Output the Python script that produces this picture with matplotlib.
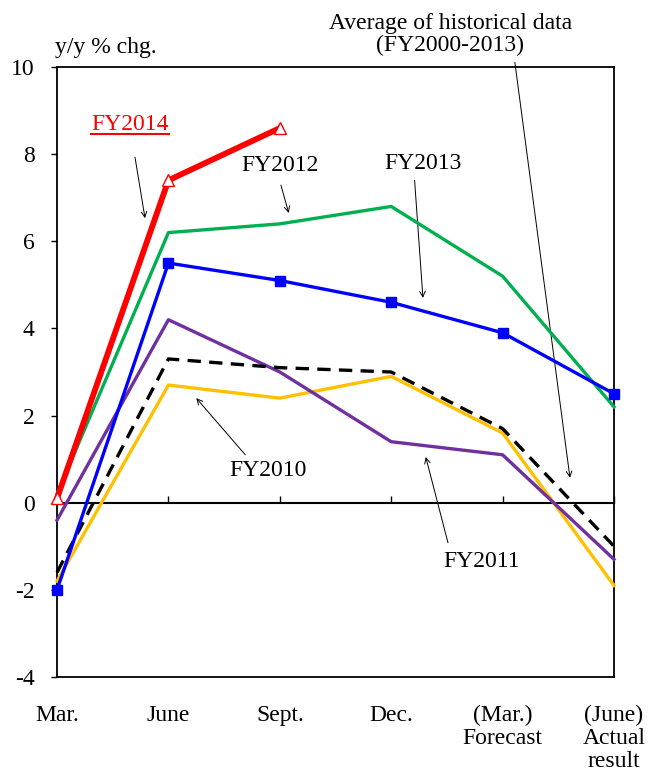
import numpy as np
import matplotlib.pyplot as plt
from matplotlib.lines import Line2D

plt.rcParams['font.family'] = ['Liberation Serif', 'DejaVu Serif']
plt.rcParams['axes.unicode_minus'] = False

months = ['Mar.', 'June', 'Sept.', 'Dec.', '(Mar.)\nForecast', '(June)\nActual\nresult']

fy2014 = [0.1, 7.4, 8.6]
fy2013 = [-2.0, 5.5, 5.1, 4.6, 3.9, 2.5]
fy2012 = [0.2, 6.2, 6.4, 6.8, 5.2, 2.2]
fy2011 = [-0.4, 4.2, 3.0, 1.4, 1.1, -1.3]
fy2010 = [-1.8, 2.7, 2.4, 2.9, 1.6, -1.9]
hist_avg = [-1.6, 3.3, 3.1, 3.0, 1.7, -1.0]

x = np.arange(len(months))
fs = 17

fig = plt.figure(figsize=(6.48, 7.75), dpi=100)
ax = fig.add_axes([0.088, 0.1265, 0.8595, 0.787])

ax.plot(x, fy2010, color='#FFC000', lw=2.4, clip_on=False, zorder=3)
ax.plot(x, fy2011, color='#7030A0', lw=2.4, clip_on=False, zorder=3)
ax.plot(x, hist_avg, color='black', lw=2.4, ls=(0, (4, 2.5)), clip_on=False, zorder=4)
ax.plot(x, fy2012, color='#00B050', lw=2.4, clip_on=False, zorder=4)
ax.plot(x, fy2013, color='#0000FF', lw=2.4, marker='s', ms=7.5, clip_on=False, zorder=5)
ax.plot(x[:len(fy2014)], fy2014, color='#FF0000', lw=4.2, marker='^', ms=9,
        mfc='white', mec='#FF0000', mew=1.0, clip_on=False, zorder=6)

ax.set_xlim(0, 5)
ax.set_ylim(-4, 10)
ax.set_yticks(np.arange(-4, 11, 2))
ax.set_xticks(x)
ax.set_xticklabels(months, fontsize=fs, linespacing=1.12)
ax.tick_params(axis='x', length=0, pad=20)
ax.tick_params(axis='y', direction='out', length=4, width=1, pad=12, labelsize=fs)
for s in ax.spines.values():
    s.set_linewidth(1.3)

# zero line with upward ticks
zero = ax.secondary_xaxis(4 / 14)
zero.set_xticks(x)
zero.tick_params(direction='in', length=5, width=1, labelbottom=False, labeltop=False)
zero.spines['bottom'].set_linewidth(1.5)

ax.text(-0.02, 10.2, 'y/y % chg.', fontsize=fs, ha='left', va='bottom')

arr = dict(arrowstyle='->', color='black', lw=0.7, shrinkA=0, shrinkB=0)
t14 = ax.text(0.655, 8.67, 'FY2014', color='#FF0000', fontsize=fs,
              ha='center', va='center')
ax.annotate('', xy=(0.79, 6.53), xytext=(0.70, 7.93), arrowprops=arr)
ax.text(2.0, 7.75, 'FY2012', fontsize=fs, ha='center', va='center')
ax.annotate('', xy=(2.08, 6.65), xytext=(2.01, 7.29), arrowprops=arr)
ax.text(3.285, 7.79, 'FY2013', fontsize=fs, ha='center', va='center')
ax.annotate('', xy=(3.285, 4.70), xytext=(3.21, 7.40), arrowprops=arr)
ax.text(3.53, 10.75, 'Average of historical data\n(FY2000-2013)', fontsize=fs,
        ha='center', va='center', linespacing=1.05)
ax.annotate('', xy=(4.605, 0.57), xytext=(4.11, 10.11), arrowprops=arr,
            annotation_clip=False)
ax.text(1.894, 0.75, 'FY2010', fontsize=fs, ha='center', va='center')
ax.annotate('', xy=(1.25, 2.40), xytext=(1.69, 1.10), arrowprops=arr)
ax.text(3.815, -1.36, 'FY2011', fontsize=fs, ha='center', va='center')
ax.annotate('', xy=(3.31, 1.05), xytext=(3.51, -0.92), arrowprops=arr)

# underline for FY2014 label
fig.canvas.draw()
bb = t14.get_window_extent().transformed(fig.transFigure.inverted())
fig.add_artist(Line2D([bb.x0, bb.x1], [bb.y0 + 0.002, bb.y0 + 0.002],
                      transform=fig.transFigure, color='#FF0000', lw=1.5))

fig.savefig('out.png', dpi=100)
